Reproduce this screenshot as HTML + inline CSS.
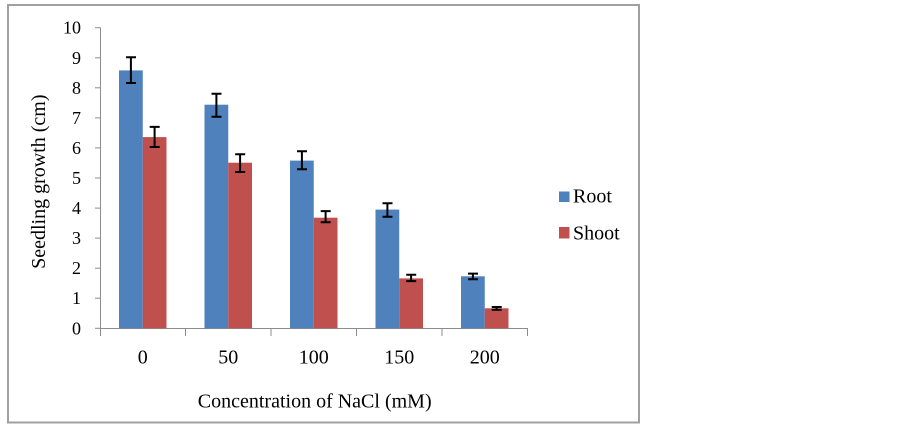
<!DOCTYPE html>
<html>
<head>
<meta charset="utf-8">
<style>
html,body{margin:0;padding:0;background:#fff;}
svg{display:block;}
text{font-family:"Liberation Serif","Times New Roman",serif;fill:#000;}
</style>
</head>
<body>
<svg width="903" height="426" viewBox="0 0 903 426" xmlns="http://www.w3.org/2000/svg">
<rect x="0" y="0" width="903" height="426" fill="#fff"/>
<!-- chart frame -->
<rect x="8" y="5" width="631" height="417.5" fill="none" stroke="#A0A0A0" stroke-width="2"/>

<!-- axes -->
<g stroke="#8C8C8C" stroke-width="1" fill="none">
  <line x1="100.5" y1="27.7" x2="100.5" y2="328.3"/>
  <line x1="100" y1="328.5" x2="528" y2="328.5"/>
  <!-- y ticks -->
  <line x1="95" y1="328.3" x2="100.5" y2="328.3"/>
  <line x1="95" y1="298.2" x2="100.5" y2="298.2"/>
  <line x1="95" y1="268.2" x2="100.5" y2="268.2"/>
  <line x1="95" y1="238.1" x2="100.5" y2="238.1"/>
  <line x1="95" y1="208.1" x2="100.5" y2="208.1"/>
  <line x1="95" y1="178.0" x2="100.5" y2="178.0"/>
  <line x1="95" y1="147.9" x2="100.5" y2="147.9"/>
  <line x1="95" y1="117.9" x2="100.5" y2="117.9"/>
  <line x1="95" y1="87.8" x2="100.5" y2="87.8"/>
  <line x1="95" y1="57.8" x2="100.5" y2="57.8"/>
  <line x1="95" y1="27.7" x2="100.5" y2="27.7"/>
  <!-- x ticks -->
  <line x1="100.5" y1="328.5" x2="100.5" y2="336"/>
  <line x1="185.5" y1="328.5" x2="185.5" y2="336"/>
  <line x1="271" y1="328.5" x2="271" y2="336"/>
  <line x1="356.5" y1="328.5" x2="356.5" y2="336"/>
  <line x1="442" y1="328.5" x2="442" y2="336"/>
  <line x1="527.5" y1="328.5" x2="527.5" y2="336"/>
</g>

<!-- bars: Root -->
<g fill="#4F81BD">
  <rect x="119" y="70.4" width="23.75" height="257.9"/>
  <rect x="204.5" y="104.7" width="23.75" height="223.6"/>
  <rect x="290" y="160.6" width="23.75" height="167.7"/>
  <rect x="375.5" y="209.6" width="23.75" height="118.7"/>
  <rect x="461" y="276.3" width="23.75" height="52"/>
</g>
<!-- bars: Shoot -->
<g fill="#C0504D">
  <rect x="142.75" y="137.1" width="23.75" height="191.2"/>
  <rect x="228.25" y="162.7" width="23.75" height="165.6"/>
  <rect x="313.75" y="217.7" width="23.75" height="110.6"/>
  <rect x="399.25" y="278.4" width="23.75" height="49.9"/>
  <rect x="484.75" y="308.3" width="23.75" height="20"/>
</g>

<!-- error bars -->
<g stroke="#000" stroke-width="2" fill="none">
  <!-- Root -->
  <path d="M130.9 57.2V83.0M126 57.2H136M126 83.0H136"/>
  <path d="M216.4 93.8V116.7M211.5 93.8H221.5M211.5 116.7H221.5"/>
  <path d="M301.9 151.2V169.3M297 151.2H307M297 169.3H307"/>
  <path d="M387.4 203.2V216.8M382.5 203.2H392.5M382.5 216.8H392.5"/>
  <path d="M472.9 273.6V279.3M468 273.6H478M468 279.3H478"/>
  <!-- Shoot -->
  <path d="M154.6 126.9V147.0M149.7 126.9H159.7M149.7 147.0H159.7"/>
  <path d="M240.1 154.3V172.0M235.2 154.3H245.2M235.2 172.0H245.2"/>
  <path d="M325.6 211.1V222.2M320.7 211.1H330.7M320.7 222.2H330.7"/>
  <path d="M411.1 274.8V281.1M406.2 274.8H416.2M406.2 281.1H416.2"/>
  <path d="M496.6 307.0V309.7M491.7 307.0H501.7M491.7 309.7H501.7"/>
</g>

<!-- y tick labels -->
<g font-size="18" text-anchor="end">
  <text x="81" y="334.3">0</text>
  <text x="81" y="304.2">1</text>
  <text x="81" y="274.2">2</text>
  <text x="81" y="244.1">3</text>
  <text x="81" y="214.1">4</text>
  <text x="81" y="184.0">5</text>
  <text x="81" y="153.9">6</text>
  <text x="81" y="123.9">7</text>
  <text x="81" y="93.8">8</text>
  <text x="81" y="63.8">9</text>
  <text x="81" y="33.7">10</text>
</g>

<!-- x tick labels -->
<g font-size="20" text-anchor="middle">
  <text x="142.75" y="363.5">0</text>
  <text x="228.25" y="363.5">50</text>
  <text x="313.75" y="363.5">100</text>
  <text x="399.25" y="363.5">150</text>
  <text x="484.75" y="363.5">200</text>
</g>

<!-- axis titles -->
<text x="314.7" y="407.3" font-size="20" text-anchor="middle">Concentration of NaCl (mM)</text>
<text transform="translate(45,181.7) rotate(-90)" font-size="20" text-anchor="middle">Seedling growth (cm)</text>

<!-- legend -->
<rect x="559" y="191.5" width="10.5" height="10.5" fill="#4F81BD"/>
<text x="573" y="202.3" font-size="20">Root</text>
<rect x="559" y="227" width="10.5" height="11.5" fill="#C0504D"/>
<text x="573" y="239.3" font-size="20">Shoot</text>
</svg>
</body>
</html>
